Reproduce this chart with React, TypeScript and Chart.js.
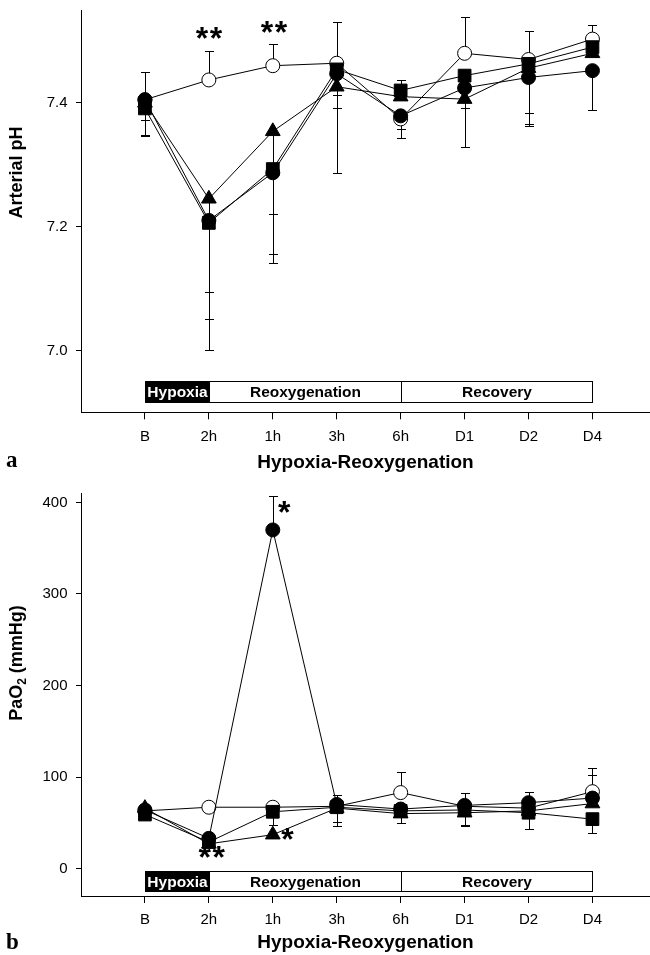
import React, { useEffect, useRef } from "react";
import { Chart, registerables } from "chart.js";

Chart.register(...registerables);

// ---------- data ----------
const categories = ["B", "2h", "1h", "3h", "6h", "D1", "D2", "D4"];
const xTicks = [0, 1, 2, 3, 4, 5, 6, 7];

const phTicks = [7.0, 7.2, 7.4];
const po2Ticks = [0, 100, 200, 300, 400];

const phaseLabels = ["Hypoxia", "Reoxygenation", "Recovery"];
const phaseBounds = [0, 1, 4, 7];

// Panel a: arterial pH
const phOpen = [7.405, 7.437, 7.46, 7.464, 7.374, 7.48, 7.47, 7.503];
const phOpenUp = [0.045, 0.047, 0.035, 0.066, 0, 0.058, 0.046, 0.023];
const phOpenDown = [0, 0, 0, 0, 0.031, 0, 0, 0];

const phCircle = [7.405, 7.21, 7.287, 7.447, 7.379, 7.424, 7.441, 7.452];
const phCircleUp = [0, 0, 0, 0, 0, 0, 0, 0];
const phCircleDown = [0.057, 0.21, 0.145, 0.16, 0.021, 0.095, 0.078, 0.063];

const phSquare = [7.391, 7.206, 7.293, 7.454, 7.42, 7.444, 7.463, 7.49];
const phSquareUp = [0, 0, 0, 0, 0.017, 0, 0, 0];
const phSquareDown = [0.018, 0.112, 0.072, 0.041, 0, 0, 0.079, 0];

const phTriangle = [7.4, 7.245, 7.354, 7.426, 7.41, 7.406, 7.456, 7.48];
const phTriangleUp = [0, 0, 0, 0, 0, 0, 0, 0];
const phTriangleDown = [0.054, 0.195, 0.199, 0.034, 0, 0.015, 0.09, 0];

const phStarX = [1, 2.02];
const phStarY = [7.499, 7.508];
const phStarText = ["**", "**"];

// Panel b: PaO2 (mmHg)
const poOpen = [63, 67, 67, 68, 83, 68, 66, 84];
const poOpenUp = [0, 0, 0, 0, 22, 0, 0, 26];
const poOpenDown = [0, 0, 0, 0, 0, 0, 0, 0];

const poCircle = [64, 33, 370, 70, 65, 69, 72, 77];
const poCircleUp = [0, 0, 37, 10, 0, 13, 12, 25];
const poCircleDown = [0, 0, 0, 0, 0, 0, 0, 0];

const poSquare = [59, 29, 62, 67, 63, 64, 61, 54];
const poSquareUp = [0, 0, 0, 0, 0, 0, 0, 0];
const poSquareDown = [0, 0, 14, 20, 13, 16, 18, 15];

const poTriangle = [66, 27, 37, 66, 60, 61, 63, 71];
const poTriangleUp = [0, 0, 0, 0, 0, 0, 0, 0];
const poTriangleDown = [0, 0, 0, 15, 0, 15, 0, 0];

const poStarX = [2.18, 1.045, 2.23];
const poStarY = [385, 8, 28.3];
const poStarText = ["*", "**", "*"];

// ---------- styling ----------
const SANS = "'Liberation Sans', Arial, Helvetica, sans-serif";
const SERIF = "'Liberation Serif', 'Times New Roman', serif";

type Series = {
  values: number[];
  up: number[];
  down: number[];
  style: "open" | "circle" | "rect" | "triangle";
  radius: number;
  order: number;
};

type TitlePart = { text: string; sub?: boolean };

type PanelCfg = {
  canvasHeight: number;
  areaTop: number;
  xAxisHeight: number;
  xTickPad: number;
  xTitlePad: number;
  yMin: number;
  yMax: number;
  yTicks: number[];
  yFormat: (v: number) => string;
  series: Series[];
  boxLow: number;
  boxHigh: number;
  starX: number[];
  starY: number[];
  starText: string[];
  yTitle: TitlePart[];
  yTitleCenter: number;
  letter: string;
  letterBaseline: number;
};

const phPanel: PanelCfg = {
  canvasHeight: 478,
  areaTop: 10,
  xAxisHeight: 65.7,
  xTickPad: 8.7,
  xTitlePad: 3.6,
  yMin: 6.9,
  yMax: 7.55,
  yTicks: phTicks,
  yFormat: (v) => v.toFixed(1),
  series: [
    { values: phOpen, up: phOpenUp, down: phOpenDown, style: "open", radius: 7, order: 4 },
    { values: phTriangle, up: phTriangleUp, down: phTriangleDown, style: "triangle", radius: 8.5, order: 3 },
    { values: phSquare, up: phSquareUp, down: phSquareDown, style: "rect", radius: 9, order: 2 },
    { values: phCircle, up: phCircleUp, down: phCircleDown, style: "circle", radius: 7, order: 1 },
  ],
  boxLow: 6.917,
  boxHigh: 6.95,
  starX: phStarX,
  starY: phStarY,
  starText: phStarText,
  yTitle: [{ text: "Arterial pH" }],
  yTitleCenter: 172.5,
  letter: "a",
  letterBaseline: 467,
};

const po2Panel: PanelCfg = {
  canvasHeight: 477,
  areaTop: 15.3,
  xAxisHeight: 59,
  xTickPad: 8,
  xTitlePad: 0.6,
  yMin: -30,
  yMax: 410,
  yTicks: po2Ticks,
  yFormat: (v) => String(v),
  series: [
    { values: poOpen, up: poOpenUp, down: poOpenDown, style: "open", radius: 7, order: 4 },
    { values: poTriangle, up: poTriangleUp, down: poTriangleDown, style: "triangle", radius: 8.5, order: 3 },
    { values: poSquare, up: poSquareUp, down: poSquareDown, style: "rect", radius: 9, order: 2 },
    { values: poCircle, up: poCircleUp, down: poCircleDown, style: "circle", radius: 7, order: 1 },
  ],
  boxLow: -25,
  boxHigh: -3,
  starX: poStarX,
  starY: poStarY,
  starText: poStarText,
  yTitle: [{ text: "PaO" }, { text: "2", sub: true }, { text: " (mmHg)" }],
  yTitleCenter: 185,
  letter: "b",
  letterBaseline: 471,
};

function buildChart(canvas: HTMLCanvasElement, p: PanelCfg) {
  const datasets = p.series.map((s) => ({
    data: s.values.map((v, i) => ({ x: xTicks[i], y: v })),
    errUp: s.up,
    errDown: s.down,
    borderColor: "#000",
    borderWidth: 1,
    pointStyle: s.style === "open" ? "circle" : s.style,
    pointRadius: s.radius,
    pointHoverRadius: s.radius,
    pointBackgroundColor: s.style === "open" ? "#fff" : "#000",
    pointBorderColor: "#000",
    pointBorderWidth: 1,
    fill: false,
    tension: 0,
    order: s.order,
    clip: false,
  }));

  const errorPlugin = {
    id: "errorBars",
    beforeDatasetsDraw(chart: any) {
      const { ctx } = chart;
      const xs = chart.scales.x;
      const ys = chart.scales.y;
      ctx.save();
      ctx.strokeStyle = "#000";
      ctx.lineWidth = 1;
      chart.data.datasets.forEach((ds: any) => {
        ds.data.forEach((pt: any, i: number) => {
          const px = Math.round(xs.getPixelForValue(pt.x)) + 0.5;
          const py = ys.getPixelForValue(pt.y);
          const draw = (e: number, sign: number) => {
            if (!e) return;
            const ey = Math.round(ys.getPixelForValue(pt.y + sign * e)) + 0.5;
            ctx.beginPath();
            ctx.moveTo(px, py);
            ctx.lineTo(px, ey);
            ctx.moveTo(px - 4.5, ey);
            ctx.lineTo(px + 4.5, ey);
            ctx.stroke();
          };
          draw(ds.errUp[i], 1);
          draw(ds.errDown[i], -1);
        });
      });
      ctx.restore();
    },
  };

  const overlayPlugin = {
    id: "overlay",
    afterDraw(chart: any) {
      const { ctx } = chart;
      const xs = chart.scales.x;
      const ys = chart.scales.y;
      ctx.save();
      // phase boxes
      const yTop = Math.round(ys.getPixelForValue(p.boxHigh)) + 0.5;
      const yBot = Math.round(ys.getPixelForValue(p.boxLow)) + 0.5;
      ctx.font = `bold 15.5px ${SANS}`;
      ctx.textAlign = "center";
      ctx.textBaseline = "middle";
      for (let i = 0; i < phaseLabels.length; i++) {
        const x0 = Math.round(xs.getPixelForValue(phaseBounds[i])) + 0.5;
        const x1 = Math.round(xs.getPixelForValue(phaseBounds[i + 1])) + 0.5;
        if (i === 0) {
          ctx.fillStyle = "#000";
          ctx.fillRect(x0 - 0.5, yTop - 0.5, x1 - x0 + 1, yBot - yTop + 1);
          ctx.fillStyle = "#fff";
        } else {
          ctx.fillStyle = "#fff";
          ctx.fillRect(x0, yTop, x1 - x0, yBot - yTop);
          ctx.strokeStyle = "#000";
          ctx.lineWidth = 1;
          ctx.strokeRect(x0, yTop, x1 - x0, yBot - yTop);
          ctx.fillStyle = "#000";
        }
        ctx.fillText(phaseLabels[i], (x0 + x1) / 2, (yTop + yBot) / 2 + 1);
      }
      // significance asterisks
      ctx.fillStyle = "#000";
      ctx.font = `bold 32px ${SANS}`;
      const m = ctx.measureText("*");
      const off = (m.actualBoundingBoxAscent - m.actualBoundingBoxDescent) / 2;
      ctx.textBaseline = "alphabetic";
      p.starText.forEach((t, i) => {
        const px = xs.getPixelForValue(p.starX[i]);
        const py = ys.getPixelForValue(p.starY[i]);
        const n = t.length;
        for (let j = 0; j < n; j++) {
          ctx.fillText("*", px + (j - (n - 1) / 2) * 14, py + off);
        }
      });
      // y-axis title (rotated)
      ctx.translate(21.5, p.yTitleCenter);
      ctx.rotate(-Math.PI / 2);
      const mainFont = `bold 18px ${SANS}`;
      const subFont = `bold 12px ${SANS}`;
      let total = 0;
      p.yTitle.forEach((part) => {
        ctx.font = part.sub ? subFont : mainFont;
        total += ctx.measureText(part.text).width;
      });
      let cx = -total / 2;
      ctx.textAlign = "left";
      p.yTitle.forEach((part) => {
        ctx.font = part.sub ? subFont : mainFont;
        ctx.fillText(part.text, cx, part.sub ? 4 : 0);
        cx += ctx.measureText(part.text).width;
      });
      ctx.setTransform(1, 0, 0, 1, 0, 0);
      // panel letter
      ctx.font = `bold 23px ${SERIF}`;
      ctx.textAlign = "left";
      ctx.fillText(p.letter, 6, p.letterBaseline);
      ctx.restore();
    },
  };

  return new Chart(canvas, {
    type: "line",
    data: { datasets: datasets as any },
    options: {
      animation: false,
      responsive: false,
      devicePixelRatio: 1,
      layout: { autoPadding: false, padding: { top: p.areaTop, left: 0, right: 0, bottom: 0 } },
      plugins: { legend: { display: false }, tooltip: { enabled: false }, title: { display: false } },
      events: [],
      scales: {
        x: {
          type: "linear",
          min: -1,
          max: 7.9,
          border: { display: true, color: "#000", width: 1 },
          grid: { drawOnChartArea: false, drawTicks: true, tickLength: 7, color: "#000", lineWidth: 1 },
          ticks: {
            autoSkip: false,
            maxRotation: 0,
            includeBounds: false,
            padding: p.xTickPad,
            color: "#000",
            font: { family: SANS, size: 15 },
            callback: (v: any) => categories[v as number] ?? "",
          },
          title: {
            display: true,
            text: "Hypoxia-Reoxygenation",
            color: "#000",
            font: { family: SANS, size: 19, weight: "bold" },
            padding: { top: 0, bottom: p.xTitlePad },
          },
          afterBuildTicks: (scale: any) => {
            scale.ticks = xTicks.map((v) => ({ value: v }));
          },
          afterFit: (scale: any) => {
            scale.height = p.xAxisHeight;
            scale.paddingLeft = 0;
            scale.paddingRight = 0;
          },
        },
        y: {
          type: "linear",
          min: p.yMin,
          max: p.yMax,
          border: { display: true, color: "#000", width: 1 },
          grid: { drawOnChartArea: false, drawTicks: true, tickLength: 5, color: "#000", lineWidth: 1 },
          ticks: {
            includeBounds: false,
            padding: 8.5,
            color: "#000",
            font: { family: SANS, size: 15 },
            callback: (v: any) => p.yFormat(v as number),
          },
          afterBuildTicks: (scale: any) => {
            scale.ticks = p.yTicks.map((v) => ({ value: v }));
          },
          afterFit: (scale: any) => {
            scale.width = 81;
            scale.paddingTop = 0;
            scale.paddingBottom = 0;
          },
        },
      },
    } as any,
    plugins: [errorPlugin, overlayPlugin],
  });
}

function Panel({ cfg, top }: { cfg: PanelCfg; top: number }) {
  const ref = useRef<HTMLCanvasElement>(null);
  useEffect(() => {
    const chart = buildChart(ref.current!, cfg);
    return () => chart.destroy();
  }, [cfg]);
  return (
    <canvas
      ref={ref}
      width={650}
      height={cfg.canvasHeight}
      style={{ position: "absolute", left: 0, top, width: 650, height: cfg.canvasHeight, display: "block" }}
    />
  );
}

export default function App() {
  return (
    <div style={{ position: "absolute", left: 0, top: 0, width: 650, height: 955, background: "#fff" }}>
      <Panel cfg={phPanel} top={0} />
      <Panel cfg={po2Panel} top={478} />
    </div>
  );
}
